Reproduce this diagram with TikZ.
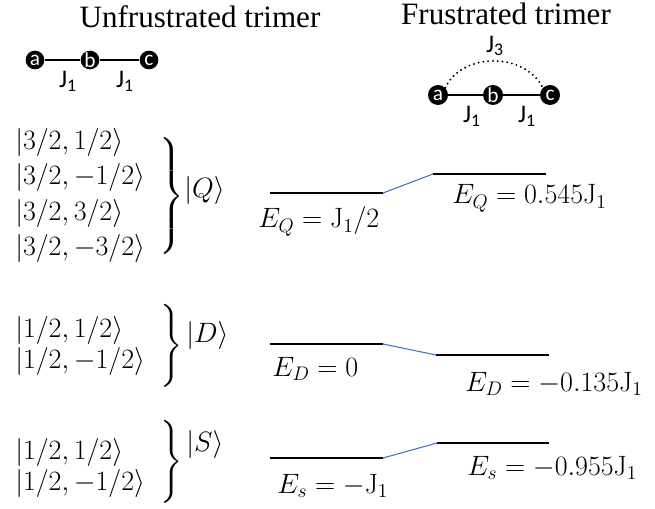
\RequirePackage{fix-cm}
\documentclass[tikz,border=0pt]{standalone}
\usepackage{amsmath}
\usepackage{fontspec}
\newfontfamily\titlefont{Liberation Serif}
\newfontfamily\labfont{Carlito}
\definecolor{linkblue}{RGB}{68,114,196}
\newcommand{\Jr}{\mathrm{J}}
\begin{document}
\begin{tikzpicture}[x=0.75pt,y=-0.75pt]
\useasboundingbox (0,0) rectangle (655,509);
\tikzset{
  ttl/.style={font=\titlefont\fontsize{23.3}{28}\selectfont, inner sep=0, anchor=base},
  atom/.style={circle, fill=black, inner sep=0, text=white, font=\labfont\fontsize{16}{18}\selectfont},
  atomL/.style={atom, minimum size=14pt},
  atomR/.style={atom, minimum size=15pt},
  bond/.style={line width=1.5pt},
  jlab/.style={font=\labfont\fontsize{19}{22}\selectfont, inner sep=0},
  mth/.style={font=\fontsize{21}{25}\selectfont, inner sep=0, anchor=base west},
  brc/.style={font=\fontsize{21}{25}\selectfont, inner sep=0},
  level/.style={line width=1.6pt},
  conn/.style={draw=linkblue, line width=0.8pt},
}
% titles
\node[ttl] (t1) at (200,28) {Unfrustrated trimer};
\node[ttl] (t2) at (506,25) {Frustrated trimer};
% left trimer
\node[atomL] (la) at (35,60) {a};
\node[atomL] (lb) at (90,60) {b};
\node[atomL] (lc) at (149,60) {c};
\draw[bond] (la) -- (lb);
\draw[bond] (lb) -- (lc);
\node[jlab] (lj1) at (68,81) {J\textsubscript{1}};
\node[jlab] (lj2) at (125,81) {J\textsubscript{1}};
% right trimer
\node[atomR] (ra) at (438,95) {a};
\node[atomR] (rb) at (493,95) {b};
\node[atomR] (rc) at (550,95) {c};
\draw[bond] (ra) -- (rb);
\draw[bond] (rb) -- (rc);
\node[jlab] (rj1) at (472,116) {J\textsubscript{1}};
\node[jlab] (rj2) at (527,116) {J\textsubscript{1}};
\node[jlab] (rj3) at (495,46) {J\textsubscript{3}};
\draw[line width=1.6pt, line cap=round, dash pattern=on 0pt off 3.6pt]
  (ra.north east) .. controls (462,52) and (525,52) .. (rc.north west);
% Q group
\node[mth] (q1) at (15,150) {$|3/2,1/2\rangle$};
\node[mth] (q2) at (15,185) {$|3/2,-1/2\rangle$};
\node[mth] (q3) at (15,220) {$|3/2,3/2\rangle$};
\node[mth] (q4) at (15,255) {$|3/2,-3/2\rangle$};
\node[brc] (qb) at (171,196) {$\left.\vcenter{\hbox{\rule{0pt}{92pt}}}\right\}$};
\node[mth, anchor=west] (qk) at (184,191) {$|Q\rangle$};
% D group
\node[mth] (d1) at (15,337) {$|1/2,1/2\rangle$};
\node[mth] (d2) at (15,368) {$|1/2,-1/2\rangle$};
\node[brc] (db) at (171,346) {$\left.\vcenter{\hbox{\rule{0pt}{56pt}}}\right\}$};
\node[mth, anchor=west] (dk) at (186,335) {$|D\rangle$};
% S group
\node[mth] (s1) at (15,459) {$|1/2,1/2\rangle$};
\node[mth] (s2) at (15,490) {$|1/2,-1/2\rangle$};
\node[brc] (sb) at (171,462) {$\left.\vcenter{\hbox{\rule{0pt}{56pt}}}\right\}$};
\node[mth, anchor=west] (sk) at (186,444) {$|S\rangle$};
% Q levels
\coordinate (qa1) at (270,193); \coordinate (qa2) at (383,193);
\coordinate (qb1) at (433,174); \coordinate (qb2) at (546,174);
\draw[level] (qa1) -- (qa2);
\draw[level] (qb1) -- (qb2);
\draw[conn] (qa2) -- (qb1);
\node[mth] (eq1) at (258,228) {$E_Q=\Jr_1/2$};
\node[mth] (eq2) at (452,204) {$E_Q=0.545\Jr_1$};
% D levels
\coordinate (da1) at (270,344); \coordinate (da2) at (383,344);
\coordinate (db1) at (436,355); \coordinate (db2) at (549,355);
\draw[level] (da1) -- (da2);
\draw[level] (db1) -- (db2);
\draw[conn] (da2) -- (db1);
\node[mth] (ed1) at (272,376) {$E_D=0$};
\node[mth] (ed2) at (465,391) {$E_D=-0.135\Jr_1$};
% S levels
\coordinate (sa1) at (270,458); \coordinate (sa2) at (383,458);
\coordinate (sb1) at (437,443); \coordinate (sb2) at (549,443);
\draw[level] (sa1) -- (sa2);
\draw[level] (sb1) -- (sb2);
\draw[conn] (sa2) -- (sb1);
\node[mth] (es1) at (277,493) {$E_s=-\Jr_1$};
\node[mth] (es2) at (467,475) {$E_s=-0.955\Jr_1$};
\end{tikzpicture}
\end{document}
